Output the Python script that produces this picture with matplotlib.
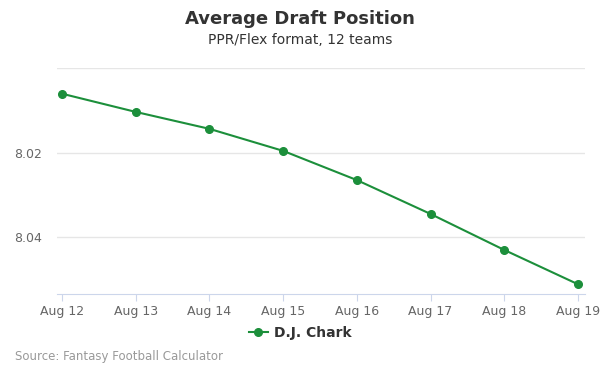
import matplotlib
matplotlib.use('Agg')
import matplotlib.pyplot as plt

dates = ['Aug 12', 'Aug 13', 'Aug 14', 'Aug 15', 'Aug 16', 'Aug 17', 'Aug 18', 'Aug 19']
adp = [8.0061, 8.0104, 8.0144, 8.0196, 8.0265, 8.0345, 8.0430, 8.0511]
player = 'D.J. Chark'

green = '#1c8f3b'

fig = plt.figure(figsize=(6, 3.75), dpi=100)
ax = fig.add_axes([0.095, 0.216, 0.88, 0.603])

x = list(range(len(dates)))
ax.plot(x, adp, color=green, lw=1.5, marker='o', markersize=5.5, label=player, clip_on=False, zorder=3)

ax.set_xlim(-0.068, 7.095)
ax.set_ylim(8.0534, 8.0)
ax.set_yticks([8.0, 8.02, 8.04])
ax.set_yticklabels(['', '8.02', '8.04'])
ax.set_xticks(x)
ax.set_xticklabels(dates)

ax.grid(axis='y', color='#e6e6e6', lw=1)
ax.set_axisbelow(True)
for s in ['top', 'right', 'left']:
    ax.spines[s].set_visible(False)
ax.spines['bottom'].set_color('#ccd6eb')
ax.tick_params(axis='y', length=0, labelsize=9, labelcolor='#666666', pad=11)
ax.tick_params(axis='x', length=5, color='#ccd6eb', labelsize=9, labelcolor='#666666', pad=3)

fig.text(0.5, 0.948, 'Average Draft Position', ha='center', va='center', fontsize=13, fontweight='bold', color='#333333')
fig.text(0.5, 0.893, 'PPR/Flex format, 12 teams', ha='center', va='center', fontsize=10, color='#333333')
fig.text(0.025, 0.05, 'Source: Fantasy Football Calculator', ha='left', va='center', fontsize=8.5, color='#999999')

leg = fig.legend(loc='center', bbox_to_anchor=(0.5, 0.113), frameon=False, handlelength=1.4,
                 handletextpad=0.4, prop={'weight': 'bold', 'size': 10})
for t in leg.get_texts():
    t.set_color('#333333')

fig.savefig('out.png', dpi=100)
